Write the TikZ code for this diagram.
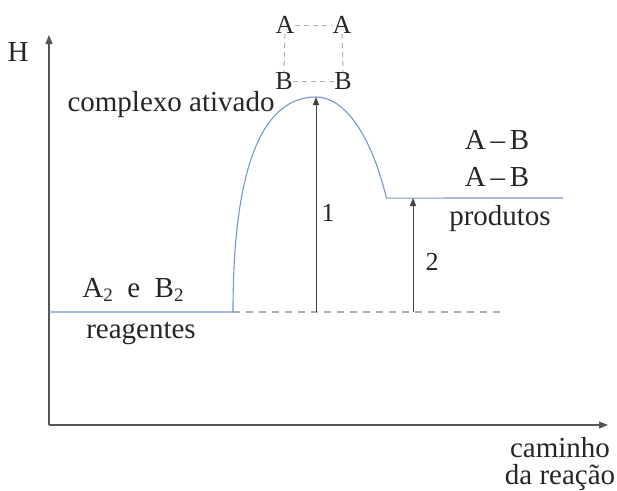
\documentclass[tikz,border=0pt]{standalone}
\usepackage{fontspec}
\setmainfont{Liberation Serif}
\usetikzlibrary{arrows.meta}
\definecolor{curveblue}{RGB}{118,150,214}
\definecolor{axisgray}{RGB}{85,85,85}
\definecolor{dashgray}{RGB}{175,175,175}
\begin{document}
\begin{tikzpicture}[x=1pt,y=-1pt,
  lbl/.style={inner sep=0pt,font=\fontsize{29}{32}\selectfont,text=black!85},
  small/.style={inner sep=0pt,font=\fontsize{26}{28}\selectfont,text=black!85},
  axis/.style={draw=axisgray,line width=1.1pt,-{Triangle[length=9pt,width=7pt]}},
  enarrow/.style={draw=black!75,line width=1pt,-{Triangle[length=8pt,width=6pt]}},
  level/.style={draw=curveblue,line width=1.1pt},
  guide/.style={draw=dashgray,line width=1.1pt,dash pattern=on 7pt off 6pt},
  sqguide/.style={draw=dashgray,line width=1pt,dash pattern=on 5pt off 4pt}]
\useasboundingbox (0,0) rectangle (617,490);
% axes
\coordinate (O) at (49,425);
\coordinate (ytop) at (49,35);
\coordinate (xend) at (608,425);
\draw[axis] (O) -- (ytop);
\draw[axis] (O) -- (xend);
\node[lbl] (H) at (18,52) {H};
\node[lbl,anchor=base] (cam1) at (560,457) {caminho};
\node[lbl,anchor=base] (cam2) at (560,484) {da reação};
% levels
\coordinate (r0) at (49,312);
\coordinate (r1) at (233,312);
\coordinate (peak) at (316,97);
\coordinate (pEnd) at (563,198);
\coordinate (dEnd) at (505,312);
\coordinate (base1) at (316,312);
\coordinate (base2) at (413,312);
\coordinate (top2) at (413,198);
\draw[guide] (r1) -- (dEnd);
\draw[level] (r0) -- (r1) .. controls (233,160) and (265,97) .. (peak)
  arc[start angle=270,end angle=328,x radius=83,y radius=215] coordinate (p1) -- (pEnd);
% arrows
\draw[enarrow] (base1) -- (peak);
\draw[enarrow] (base2) -- (top2);
\node[small] (n1) at (328,213) {1};
\node[small] (n2) at (432,262) {2};
% labels
\node[lbl,anchor=base] (cx) at (171,111) {complexo ativado};
\node[lbl,anchor=base] (AB) at (133,297) {A\raisebox{-0.35ex}{\fontsize{19}{19}\selectfont 2}\ \ e\ \ B\raisebox{-0.35ex}{\fontsize{19}{19}\selectfont 2}};
\node[lbl,anchor=base] (reag) at (141,338) {reagentes};
\node[lbl] (ab1) at (497,140) {A\,–\,B};
\node[lbl] (ab2) at (497,177) {A\,–\,B};
\node[lbl,anchor=base] (prod) at (500,225) {produtos};
% activated complex square
\node[small] (a1) at (285,25) {A};
\node[small] (a2) at (342,25) {A};
\node[small] (b1) at (284,81) {B};
\node[small] (b2) at (343,81) {B};
\draw[sqguide] (a1.east) -- (a2.west);
\draw[sqguide] (b1.east) -- (b2.west);
\draw[sqguide] (a1.south) -- (b1.north);
\draw[sqguide] (a2.south) -- (b2.north);
\end{tikzpicture}
\end{document}
